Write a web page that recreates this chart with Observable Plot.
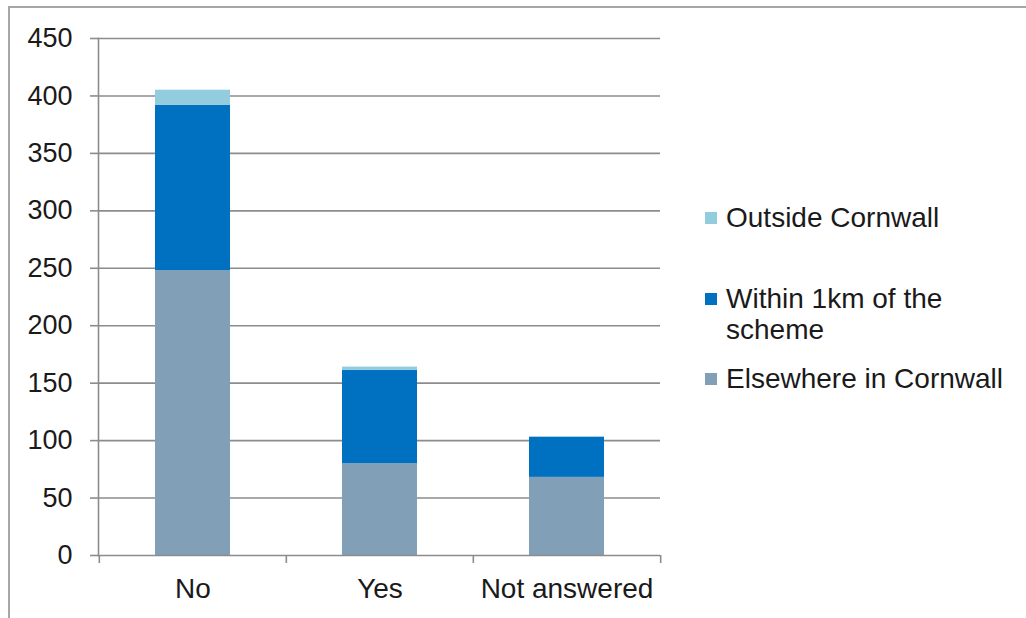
<!DOCTYPE html>
<html>
<head>
<meta charset="utf-8">
<script src="https://cdn.jsdelivr.net/npm/d3@7"></script>
<script src="https://cdn.jsdelivr.net/npm/@observablehq/plot@0.6"></script>
<style>
  html, body { margin: 0; padding: 0; background: #fff; }
  #wrap { position: relative; width: 1026px; height: 618px; overflow: hidden; font-family: "Liberation Sans", Arial, sans-serif; }
  #border { position: absolute; left: 8px; top: 6px; right: -10px; bottom: -10px; border-left: 2px solid #a6a6a6; border-top: 2px solid #a6a6a6; }
  #chart { position: absolute; left: 0; top: 0; }
  .leg { position: absolute; left: 705px; font-size: 28px; color: #1a1a1a; line-height: 31px; }
  .leg .sw { position: absolute; left: 0; width: 12px; height: 12px; top: 10px; }
  .leg .tx { position: absolute; left: 21px; white-space: nowrap; }
</style>
</head>
<body>
<div id="wrap">
  <div id="border"></div>
  <div id="chart"></div>
  <div id="legend"></div>
</div>
<script>
const categories = ["No", "Yes", "Not answered"];
const seriesNames = ["Elsewhere in Cornwall", "Within 1km of the scheme", "Outside Cornwall"];
const elsewhere = [248, 80, 68];
const within1km = [144, 81, 35];
const outside = [13, 3, 0];
const yTicks = [0, 50, 100, 150, 200, 250, 300, 350, 400, 450];
const colors = ["#819fb7", "#0070c0", "#93cddd"];

const seriesValues = [elsewhere, within1km, outside];
const data = [];
seriesNames.forEach((s, si) => categories.forEach((c, ci) => data.push({category: c, series: s, value: seriesValues[si][ci]})));

const W = 1026, H = 618, mL = 98, mR = 366, mT = 38, mB = 63;
const step = (W - mL - mR) / categories.length;
const plotH = H - mT - mB;

const chart = Plot.plot({
  width: W, height: H,
  marginLeft: mL, marginRight: mR, marginTop: mT, marginBottom: mB,
  style: {fontFamily: "Liberation Sans, Arial, sans-serif", fontSize: "27px", color: "#1a1a1a", background: "transparent", overflow: "visible"},
  x: {domain: categories, paddingInner: 0.6, paddingOuter: 0.3, label: null},
  y: {domain: [0, 450], label: null},
  color: {domain: seriesNames, range: colors},
  marks: [
    Plot.ruleY(yTicks.filter(d => d > 0), {stroke: "#8c8c8c", strokeWidth: 1.6}),
    Plot.barY(data, {x: "category", y: "value", fill: "series", order: seriesNames}),
    Plot.axisY({ticks: yTicks, tickSize: 8, tickPadding: 18, stroke: "#8c8c8c", strokeWidth: 1.6, fontSize: 27, fill: "#1a1a1a"}),
    Plot.frame({anchor: "left", stroke: "#8c8c8c", strokeWidth: 1.6}),
    Plot.ruleY([0], {stroke: "#8c8c8c", strokeWidth: 1.6}),
    Plot.ruleX(categories, {x: d => d, dx: -step / 2, insetTop: plotH, insetBottom: -8, stroke: "#8c8c8c", strokeWidth: 1.6}),
    Plot.ruleX([categories[categories.length - 1]], {x: d => d, dx: step / 2, insetTop: plotH, insetBottom: -8, stroke: "#8c8c8c", strokeWidth: 1.6}),
    Plot.axisX({tickSize: 0, tickPadding: 23, fontSize: 28, fill: "#1a1a1a"})
  ]
});
document.getElementById("chart").appendChild(chart);

const legendItems = [
  {name: "Outside Cornwall", color: colors[2], top: 202, lines: ["Outside Cornwall"]},
  {name: "Within 1km of the scheme", color: colors[1], top: 283, lines: ["Within 1km of the", "scheme"]},
  {name: "Elsewhere in Cornwall", color: colors[0], top: 363, lines: ["Elsewhere in Cornwall"]}
];
const leg = document.getElementById("legend");
legendItems.forEach(it => {
  const d = document.createElement("div");
  d.className = "leg";
  d.style.top = it.top + "px";
  d.innerHTML = `<div class="sw" style="background:${it.color}"></div><div class="tx">${it.lines.join("<br>")}</div>`;
  leg.appendChild(d);
});
</script>
</body>
</html>
